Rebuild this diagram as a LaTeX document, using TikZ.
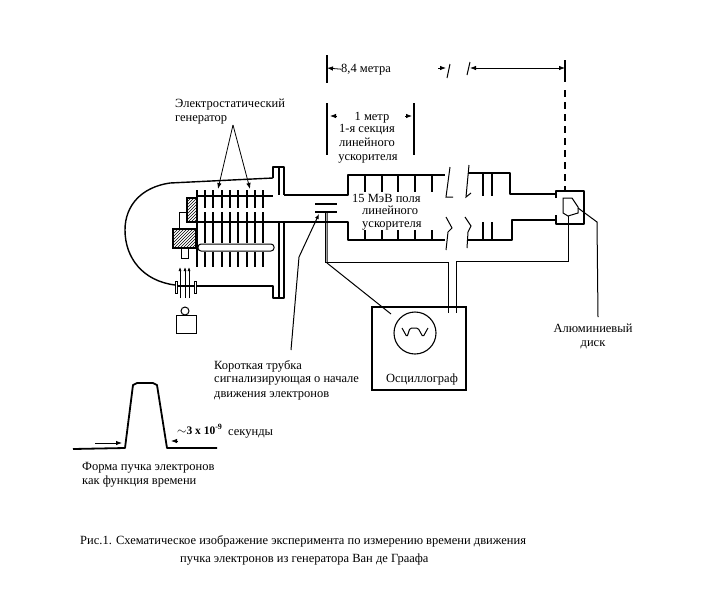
\documentclass[tikz,border=0pt]{standalone}
\usepackage{fontspec}
\setmainfont{Liberation Serif}
\usetikzlibrary{arrows.meta,patterns}
\begin{document}
\begin{tikzpicture}[
      x=1pt,y=-1pt,
      wall/.style={line width=1.8pt,line join=round},
      fin/.style={line width=1.2pt},
      wire/.style={line width=1pt},
      thinwire/.style={line width=1pt},
      arrow/.style={-{Latex[length=6pt,width=4.5pt]},line width=0.8pt},
      hatched/.style={draw,line width=1.5pt,pattern=north east lines},
      label/.style={font=\fontsize{12.5}{12.5}\selectfont,inner sep=0pt,anchor=base west},
      labelc/.style={label,anchor=base}
    ]
      \useasboundingbox (0,0) rectangle (709,590);
      % dome and flanges of the generator
      \draw[wire,line width=1.4pt] (175,285) .. controls (143,281) and (125,258) .. (125,230) .. controls (125,205) and (142,187) .. (170,183) -- (273,178);
      \draw[wall] (273,178) -- (273,167) -- (284,167) -- (284,195);
      \draw[wall] (279,167) -- (279,195);
      \draw[wall] (196,286) -- (273,286) -- (273,298) -- (284,298) -- (284,223);
      \draw[wall] (279,223) -- (279,298);
      % tube
      \draw[wall] (197,196) -- (273,196);
      \draw[wall] (284,195) -- (348,195) -- (348,175) -- (445,175);
      \draw[wall] (197,222) -- (348,222) -- (348,240) -- (445,240);
      \foreach \x in {205,213,222,230,238,247,255,263}{
        \draw[fin] (\x,190) -- (\x,208);
        \draw[fin] (\x,212) -- (\x,243);
        \draw[fin] (\x,252) -- (\x,267);
      }
      \draw[wall] (197,190) -- (197,267);
      \draw[hatched] (187,198) rectangle (197,222);
      \draw[hatched] (173,229) rectangle (196,248);
      \draw[thinwire] (187,212) -- (179,212) -- (179,229);
      \draw[thinwire] (181,248) rectangle (188,258);
      \draw[thinwire,rounded corners=3pt] (198,244) rectangle (274,251);
      % ion source
      \draw[wire] (175,281) rectangle (177,293);
      \draw[wire] (194,281) rectangle (196,293);
      \draw[wall] (177,286) -- (194,286);
      \foreach \x in {180,185,189}{
        \draw[-{Latex[length=4pt,width=3pt]},line width=0.7pt] (\x,298) -- (\x,267);
      }
      \node[draw,line width=1pt,circle,inner sep=0pt,minimum width=8pt] (bulb) at (185,311) {};
      \node[draw,line width=1pt,minimum width=20pt,minimum height=18pt,inner sep=0pt] (source) at (186,324) {};
      % accelerator, first part
      \foreach \x in {365,382,398,415,432}{
        \draw[fin] (\x,175) -- (\x,192);
        \draw[fin] (\x,230) -- (\x,240);
      }
      \draw[thinwire] (450,167) -- (446,197) -- (453,197);
      \draw[thinwire] (446,217) -- (452,228) -- (448,232) -- (446,250);
      % accelerator, second part
      \draw[thinwire] (469,165) -- (466,197) -- (471,193);
      \draw[thinwire] (465,217) -- (471,226) -- (468,232) -- (467,248);
      \draw[wall] (468,173) -- (510,173) -- (510,194) -- (557,194);
      \draw[wall] (468,240) -- (512,240) -- (512,220) -- (557,220);
      \foreach \x in {483,492}{
        \draw[fin] (\x,173) -- (\x,196);
        \draw[fin] (\x,222) -- (\x,240);
      }
      % target box and disk
      \draw[wall] (556,198) -- (556,191) -- (584,191) -- (584,224) -- (556,224) -- (556,215);
      \draw[thinwire] (563,198) -- (572,198) -- (578,207) -- (578,213) -- (568,216) -- (563,213) -- cycle;
      \coordinate (diskfoot) at (568,216);
      \coordinate (diskside) at (578,208);
      % short tube
      \draw[wall] (315,204) -- (337,204);
      \draw[wall] (315,212) -- (337,212);
      % oscilloscope
      \node[draw,line width=1.7pt,minimum width=94pt,minimum height=83pt,inner sep=0pt] (scope) at (419,348.5) {};
      \node[draw,circle,line width=1.1pt,minimum size=42pt,inner sep=0pt] (screen) at (415,333) {};
      \draw[thinwire,rounded corners=1.5pt] (402,328) -- (407,337) -- (410,328) -- (418,328) -- (423,337) -- (428,328);
      \node[labelc] (scopetext) at (422,382) {Осциллограф};
      % wires
      \coordinate (tubea) at (325,212);
      \coordinate (tubeb) at (327,212);
      \coordinate (bendb) at (327,263);
      \coordinate (enda) at (448,313);
      \coordinate (endb) at (391,314);
      \coordinate (endc) at (456,313);
      \draw[wire] (tubea) |- (enda |- 0,262) -- (enda);
      \draw[wire] (tubeb) -- (bendb) -- (endb);
      \draw[wire] (diskfoot) -- (568,261) -- (456,261) -- (endc);
      % dimensions
      \coordinate (dima) at (327,68);
      \coordinate (dimb) at (565,68);
      \draw[wall] (327,55) -- (327,83);
      \draw[wall] (565,60) -- (565,82);
      \draw[wall,dash pattern=on 7pt off 5pt] (565,90) -- (565,190);
      \node[label] (dimtext) at (341,72) {8,4 метра};
      \draw[arrow] (dimtext.west) -- (dima);
      \draw[arrow] (438,68) -- (446,68);
      \draw[thinwire] (450,64) -- (447,78);
      \draw[thinwire] (470,62) -- (467,75);
      \coordinate (breakr) at (470,68);
      \draw[{Latex[length=6pt,width=4.5pt]}-{Latex[length=6pt,width=4.5pt]},line width=0.8pt] (breakr) -- (dimb);
      \draw[wall] (327,103) -- (327,155);
      \draw[wall] (414,103) -- (414,155);
      \node[labelc] (metera) at (372,120) {1 метр};
      \node[labelc] (meterb) at (367,132) {1-я секция};
      \node[labelc] (meterc) at (367,146) {линейного};
      \node[labelc] (meterd) at (368,160) {ускорителя};
      \draw[arrow] (337,116) -- (330,116);
      \draw[arrow] (405,116) -- (412,116);
      % labels at the accelerator
      \node[label] (fielda) at (352,202) {15 МэВ поля};
      \node[label] (fieldb) at (362,214) {линейного};
      \node[label] (fieldc) at (362,227) {ускорителя};
      % generator label
      \node[label] (gena) at (175,107) {Электростатический};
      \node[label] (genb) at (175,121) {генератор};
      \coordinate (apex) at (233,125);
      \draw[arrow] (apex) -- (218,189);
      \draw[arrow] (apex) -- (250,189);
      % short tube label
      \node[label] (shorta) at (214,369) {Короткая трубка};
      \node[label] (shortb) at (214,382) {сигнализирующая о начале};
      \node[label] (shortc) at (214,397) {движения электронов};
      \coordinate (shorttip) at (319,214);
      \draw[-{Latex[length=5pt,width=4pt]},thinwire] (291,350) -- (299,257) -- (shorttip);
      % disk label
      \node[labelc] (diska) at (593,332) {Алюминиевый};
      \node[labelc] (diskb) at (593,346) {диск};
      \draw[thinwire] (diskside) -- (597,222) -- (598,317);
      % pulse
      \draw[wall] (73,449) -- (125,448) -- (133,385) to[bend left=10] (137,383) -- (153,383) to[bend left=10] (157,385) -- (167,448) -- (217,448);
      \draw[arrow] (95,443) -- (122,443);
      \draw[arrow] (178,441) -- (171,441);
      \node[label,font=\fontsize{11.5}{11.5}\selectfont\bfseries] (puls) at (177,434) {$\sim$3 x 10\textsuperscript{-9}};
      \node[label] (pulsunit) at (228,435) {секунды};
      \node[label] (forma) at (82,470) {Форма пучка электронов};
      \node[label] (formb) at (82,484) {как функция времени};
      % caption
      \node[label] (capa) at (80,544) {Рис.1. Схематическое изображение эксперимента по измерению времени движения};
      \node[label] (capb) at (180,562) {пучка электронов из генератора Ван де Граафа};
    \end{tikzpicture}
\end{document}
